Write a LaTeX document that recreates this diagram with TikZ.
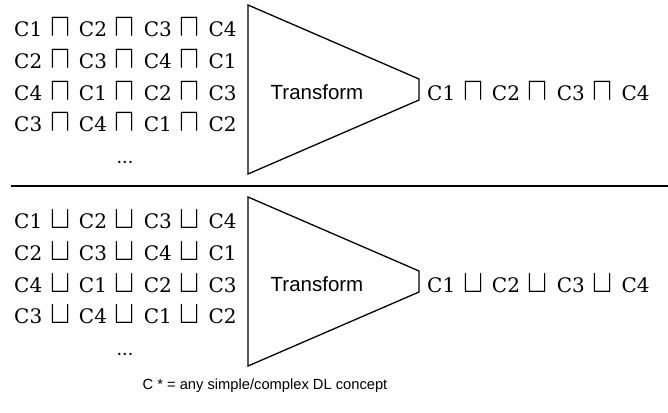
\documentclass[tikz,border=0pt]{standalone}
\usepackage{fontspec}
\setmainfont{Liberation Sans}
\newfontfamily\conceptfont{DejaVu Serif}
\newcommand{\cand}{\hspace{1.5pt}\scalebox{1.45}[1.55]{$\sqcap$}\hspace{2.5pt}}
\newcommand{\cor}{\hspace{1.5pt}\scalebox{1.45}[1.55]{$\sqcup$}\hspace{2.5pt}}
\begin{document}
\begin{tikzpicture}[x=1pt,y=-1pt]
\tikzstyle{every node}+=[inner sep=0pt]
\tikzstyle{expr}=[anchor=base west, font=\conceptfont\fontsize{20}{24}\selectfont]
\tikzstyle{dots}=[anchor=base, font=\fontsize{20}{24}\selectfont]
\tikzstyle{transform}=[font=\fontsize{20.5}{24}\selectfont]
\useasboundingbox (0,0) rectangle (668,412);
% conjunction
\draw [black, line width=1.3] (248,5) -- (419,79) -- (419,100) -- (248,174) -- cycle;
\node [transform] (tand) at (317,92) {Transform};
\node [expr] (a1) at (14,36.5) {C1 \cand{} C2 \cand{} C3 \cand{} C4};
\node [expr] (a2) at (14,68.5) {C2 \cand{} C3 \cand{} C4 \cand{} C1};
\node [expr] (a3) at (14,100.5) {C4 \cand{} C1 \cand{} C2 \cand{} C3};
\node [expr] (a4) at (14,131.5) {C3 \cand{} C4 \cand{} C1 \cand{} C2};
\node [dots] (adots) at (125,163) {...};
\node [expr] (aout) at (427,100.5) {C1 \cand{} C2 \cand{} C3 \cand{} C4};
% separator
\draw [black, line width=1.6] (11,186) -- (668,186);
% disjunction
\draw [black, line width=1.3] (248,197) -- (419,271) -- (419,292) -- (248,366) -- cycle;
\node [transform] (tor) at (317,284) {Transform};
\node [expr] (o1) at (14,228.5) {C1 \cor{} C2 \cor{} C3 \cor{} C4};
\node [expr] (o2) at (14,260.5) {C2 \cor{} C3 \cor{} C4 \cor{} C1};
\node [expr] (o3) at (14,292.5) {C4 \cor{} C1 \cor{} C2 \cor{} C3};
\node [expr] (o4) at (14,323.5) {C3 \cor{} C4 \cor{} C1 \cor{} C2};
\node [dots] (odots) at (125,355) {...};
\node [expr] (oout) at (427,292.5) {C1 \cor{} C2 \cor{} C3 \cor{} C4};
\node [font=\fontsize{14.7}{18}\selectfont] (note) at (265,386) {C * = any simple/complex DL concept};
\end{tikzpicture}
\end{document}
